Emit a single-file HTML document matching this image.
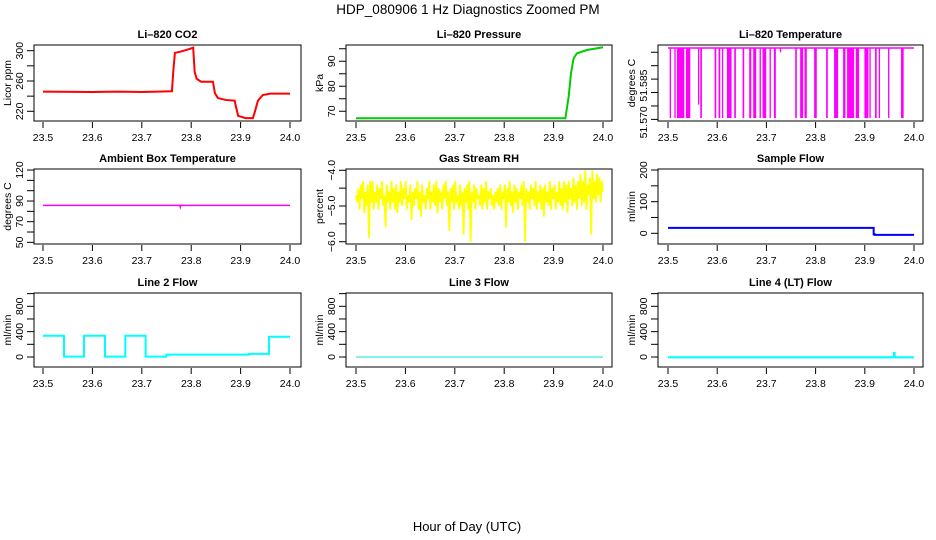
<!DOCTYPE html>
<html><head><meta charset="utf-8">
<style>
html,body{margin:0;padding:0;background:#fff;}
svg{display:block;font-family:"Liberation Sans",Arial,sans-serif;}
.tl{font-size:10.5px;fill:#000;}
.pt{font-size:11px;font-weight:bold;fill:#000;}
</style></head>
<body>
<svg id="fig" width="936" height="540" viewBox="0 0 936 540" xmlns="http://www.w3.org/2000/svg">
<rect width="936" height="540" fill="#fff"/>
<text x="468" y="14" text-anchor="middle" font-size="13.5">HDP_080906  1 Hz Diagnostics Zoomed PM</text>
<text x="467" y="531" text-anchor="middle" font-size="13">Hour of Day (UTC)</text>
</svg>
<script>
// ---- data ----
const xTicks = [23.5, 23.6, 23.7, 23.8, 23.9, 24.0];
const xTickLabels = ["23.5", "23.6", "23.7", "23.8", "23.9", "24.0"];

const co2Hours = [23.5, 23.60, 23.65, 23.70, 23.761, 23.764, 23.767, 23.78, 23.795, 23.804, 23.807, 23.811, 23.82, 23.844, 23.848, 23.854, 23.87, 23.888, 23.891, 23.895, 23.91, 23.925, 23.93, 23.935, 23.945, 23.96, 24.0];
const co2Values = [246, 245.5, 246, 245.5, 246.5, 275, 297, 299, 302, 304, 272, 263, 259, 259, 244, 237.5, 235, 234, 225, 214, 211, 211, 222, 234, 241.5, 243.3, 243.3];

const presHours = [23.5, 23.7, 23.9238, 23.9305, 23.9352, 23.9406, 23.9474, 23.9676, 24.0];
const presValues = [67.2, 67.2, 67.2, 75.8, 85.2, 91.2, 93.2, 94.5, 95.6];

const tempTop = 51.5966;
const tempDipStart = [23.5034,23.5129,23.5183,23.5365,23.5609,23.5656,23.5947,23.6028,23.6096,23.6198,23.6346,23.6516,23.6651,23.6732,23.6861,23.6922,23.7064,23.7152,23.7273,23.7585,23.7686,23.7774,23.7970,23.8214,23.8376,23.8559,23.8640,23.8816,23.8992,23.9093,23.9208,23.9283,23.9472,23.9736];
const tempDipEnd   = [23.5061,23.5156,23.5332,23.5453,23.5629,23.5690,23.5981,23.6062,23.6116,23.6292,23.6380,23.6549,23.6692,23.6793,23.6888,23.6996,23.7091,23.7192,23.7300,23.7618,23.7747,23.7821,23.8024,23.8248,23.8457,23.8606,23.8782,23.8883,23.9073,23.9120,23.9242,23.9303,23.9499,23.9790];
const tempDipLow   = [51.5705,51.5705,51.5705,51.5705,51.5755,51.5705,51.5705,51.5705,51.5705,51.5705,51.5705,51.5705,51.5705,51.5705,51.5705,51.5705,51.5705,51.5705,51.5950,51.5705,51.5705,51.5705,51.5705,51.5705,51.5705,51.5705,51.5705,51.5705,51.5705,51.5705,51.5705,51.5705,51.5705,51.5705];

const ambHours = [23.5, 23.777, 23.778, 23.779, 24.0];
const ambValues = [85.8, 85.8, 84.0, 85.8, 85.8];

const rhValues = [-4.7,-4.9,-4.5,-5.1,-4.4,-4.8,-4.3,-5.2,-4.6,-5.0,-4.4,-5.9,-4.3,-4.9,-4.3,-5.1,-4.6,-4.9,-4.4,-5.1,-4.5,-4.8,-4.3,-5.0,-4.7,-5.6,-4.4,-4.9,-4.6,-5.1,
-4.3,-4.9,-4.5,-5.1,-4.4,-5.2,-4.6,-4.9,-4.3,-5.0,-4.5,-4.8,-4.3,-5.1,-4.7,-4.9,-4.4,-5.4,-4.6,-5.0,-4.5,-4.8,-4.3,-5.1,-4.6,-5.3,-4.4,-4.9,-4.7,-5.1,
-4.5,-4.8,-4.3,-5.1,-4.6,-4.9,-4.4,-5.0,-4.3,-5.2,-4.5,-4.9,-4.6,-5.1,-4.4,-4.8,-4.3,-5.0,-4.6,-5.7,-4.5,-4.9,-4.4,-5.1,-4.3,-4.9,-4.7,-5.1,-4.4,-5.0,
-4.6,-5.8,-4.5,-4.9,-4.4,-5.1,-4.3,-6.0,-4.6,-4.9,-4.4,-5.1,-4.5,-4.8,-4.7,-5.0,-4.4,-5.1,-4.5,-4.9,-4.3,-5.1,-4.6,-4.8,-4.5,-5.0,-4.7,-5.1,-4.6,-4.9,
-4.5,-5.0,-4.4,-5.1,-4.6,-4.8,-4.4,-5.6,-4.5,-4.9,-4.3,-5.0,-4.6,-5.2,-4.4,-4.9,-4.5,-5.1,-4.6,-4.8,-4.4,-5.0,-4.3,-6.0,-4.5,-4.9,-4.6,-5.1,-4.4,-4.8,
-4.5,-5.0,-4.3,-5.1,-4.6,-4.9,-4.4,-5.1,-4.5,-5.3,-4.4,-4.9,-4.6,-5.0,-4.3,-5.1,-4.5,-4.8,-4.4,-5.1,-4.6,-4.9,-4.3,-5.0,-4.5,-5.1,-4.3,-4.9,-4.4,-5.2,
-4.3,-4.8,-4.5,-5.0,-4.2,-4.9,-4.4,-5.1,-4.3,-4.8,-4.1,-5.0,-4.3,-4.9,-4.0,-5.1,-4.4,-4.7,-4.2,-5.8,-4.0,-4.8,-4.3,-4.9,-4.1,-4.7,-4.2,-4.9,-4.3,-4.6];

const sampHours = [23.5, 23.917, 23.918, 23.92, 24.0];
const sampValues = [17, 17, -3, -5, -5];

const l2Hours = [23.5, 23.5425, 23.583, 23.6255, 23.6667, 23.7078, 23.7497, 23.917, 23.9575, 24.0];
const l2Values = [336, 5, 336, 5, 336, 5, 37, 50, 320, 320];

const l3Hours = [23.5, 24.0];
const l3Values = [0, 0];

const l4Hours = [23.5, 23.9595, 23.9605, 23.961, 24.0];
const l4Values = [-5, 63, -5, -5, -5];

// ---- layout ----
const NS = "http://www.w3.org/2000/svg";
const svg = document.getElementById("fig");
const cols = [{L:34,R:301,x0:43,x1:290},{L:346,R:612,x0:356,x1:603},{L:658,R:923,x0:668,x1:914}];
const rows = [{T:45,B:121},{T:169,B:244},{T:293,B:367}];

function mk(tag, attrs, parent){
  const e = document.createElementNS(NS, tag);
  for (const k in attrs) e.setAttribute(k, attrs[k]);
  (parent||svg).appendChild(e);
  return e;
}

function panel(ci, ri, title, ylab, yTop, yBot, yTicks, yLabels, name){
  const c = cols[ci], r = rows[ri];
  const g = mk("g", {});
  
  
  const xs = v => c.x0 + (v - 23.5) / 0.5 * (c.x1 - c.x0);
  const ys = v => r.T + (yTop - v) / (yTop - yBot) * (r.B - r.T);
  const box = mk("rect", {x:c.L, y:r.T, width:c.R-c.L, height:r.B-r.T, fill:"none", stroke:"#000", "stroke-width":1}, g);
  
  
  const t = mk("text", {x:(c.L+c.R)/2, y:r.T-7, "text-anchor":"middle", class:"pt"}, g);
  t.textContent = title;
  
  
  xTicks.forEach((v, i) => {
    const x = xs(v);
    const tk = mk("line", {x1:x, x2:x, y1:r.B+1, y2:r.B+7, stroke:"#000"}, g);
    
    
    const lb = mk("text", {x:x, y:r.B+20, "text-anchor":"middle", class:"tl"}, g);
    lb.textContent = xTickLabels[i];
    
    
  });
  yTicks.forEach(v => {
    const y = ys(v);
    const tk = mk("line", {x1:c.L-7, x2:c.L, y1:y, y2:y, stroke:"#000"}, g);
    
    
  });
  yLabels.forEach(([v, s]) => {
    const y = ys(v);
    const lb = mk("text", {x:0, y:0, "text-anchor":"middle", class:"tl", transform:`translate(${c.L-11},${y}) rotate(-90)`}, g);
    lb.textContent = s;
    
    
  });
  const yl = mk("text", {x:0, y:0, "text-anchor":"middle", class:"tl", transform:`translate(${c.L-23},${(r.T+r.B)/2}) rotate(-90)`}, g);
  yl.textContent = ylab;
  
  
  return {g, xs, ys};
}

function line(p, hours, vals, color, w, step, name){
  let pts = [];
  for (let i = 0; i < hours.length; i++){
    if (step && i > 0) pts.push(p.xs(hours[i]).toFixed(2)+","+p.ys(vals[i-1]).toFixed(2));
    pts.push(p.xs(hours[i]).toFixed(2)+","+p.ys(vals[i]).toFixed(2));
  }
  const pl = mk("polyline", {points:pts.join(" "), fill:"none", stroke:color, "stroke-width":w, "stroke-linejoin":"miter"}, p.g);
  
  
}

// CO2
let p = panel(0,0,"Li\u2013820 CO2","Licor ppm",307.5,207.2,[220,240,260,280,300],[[220,"220"],[260,"260"],[300,"300"]],"co2");
line(p, co2Hours, co2Values, "#ff0000", 2, false, "co2-line");

// Pressure
p = panel(1,0,"Li\u2013820 Pressure","kPa",96.5,66.1,[70,75,80,85,90,95],[[70,"70"],[80,"80"],[90,"90"]],"pressure");
line(p, presHours, presValues, "#00cc00", 2, false, "pressure-line");

// Temperature
p = panel(2,0,"Li\u2013820 Temperature","degrees C",51.5977,51.5694,[51.570,51.575,51.580,51.585,51.590,51.595],[[51.5689,"51.570"],[51.5826,"51.585"]],"li820-temp");
line(p, [23.5, 24.0], [tempTop, tempTop], "#ff00ff", 1.5, false, "temp-top-line");
tempDipStart.forEach((h, i) => {
  const x0 = p.xs(h), x1 = p.xs(tempDipEnd[i]);
  const rc = mk("rect", {x:x0, y:p.ys(tempTop), width:Math.max(1.3, x1-x0), height:p.ys(tempDipLow[i])-p.ys(tempTop), fill:"#ff00ff"}, p.g);
  
  
});

// Ambient
p = panel(0,1,"Ambient Box Temperature","degrees C",121,48.4,[50,60,70,80,90,100,110,120],[[50,"50"],[70,"70"],[90,"90"],[120,"120"]],"ambient");
line(p, ambHours, ambValues, "#ff00ff", 1.5, false, "ambient-line");

// RH
p = panel(1,1,"Gas Stream RH","percent",-3.964,-6.064,[-4,-4.5,-5,-5.5,-6],[[-4,"\u22124.0"],[-5,"\u22125.0"],[-6,"\u22126.0"]],"rh");
const rhHours = rhValues.map((v, i) => 23.5 + 0.5 * i / (rhValues.length - 1));
line(p, rhHours, rhValues, "#ffff00", 1.8, false, "rh-line");

// Sample flow
p = panel(2,1,"Sample Flow","ml/min",203.2,-33.8,[0,50,100,150,200],[[0,"0"],[100,"100"],[200,"200"]],"sample-flow");
line(p, sampHours, sampValues, "#0000ff", 2, true, "sample-flow-line");

// Line flows
const flowTicks = [0,200,400,600,800,1000];
const flowLabels = [[0,"0"],[400,"400"],[800,"800"]];
p = panel(0,2,"Line 2 Flow","ml/min",1010,-158,flowTicks,flowLabels,"line2-flow");
line(p, l2Hours, l2Values, "#00ffff", 2, true, "line2-flow-line");
p = panel(1,2,"Line 3 Flow","ml/min",1010,-158,flowTicks,flowLabels,"line3-flow");
line(p, l3Hours, l3Values, "#00e5e5", 1, false, "line3-flow-line");
p = panel(2,2,"Line 4 (LT) Flow","ml/min",1010,-158,flowTicks,flowLabels,"line4-flow");
line(p, l4Hours, l4Values, "#00ffff", 2.2, true, "line4-flow-line");
</script>
</body></html>
